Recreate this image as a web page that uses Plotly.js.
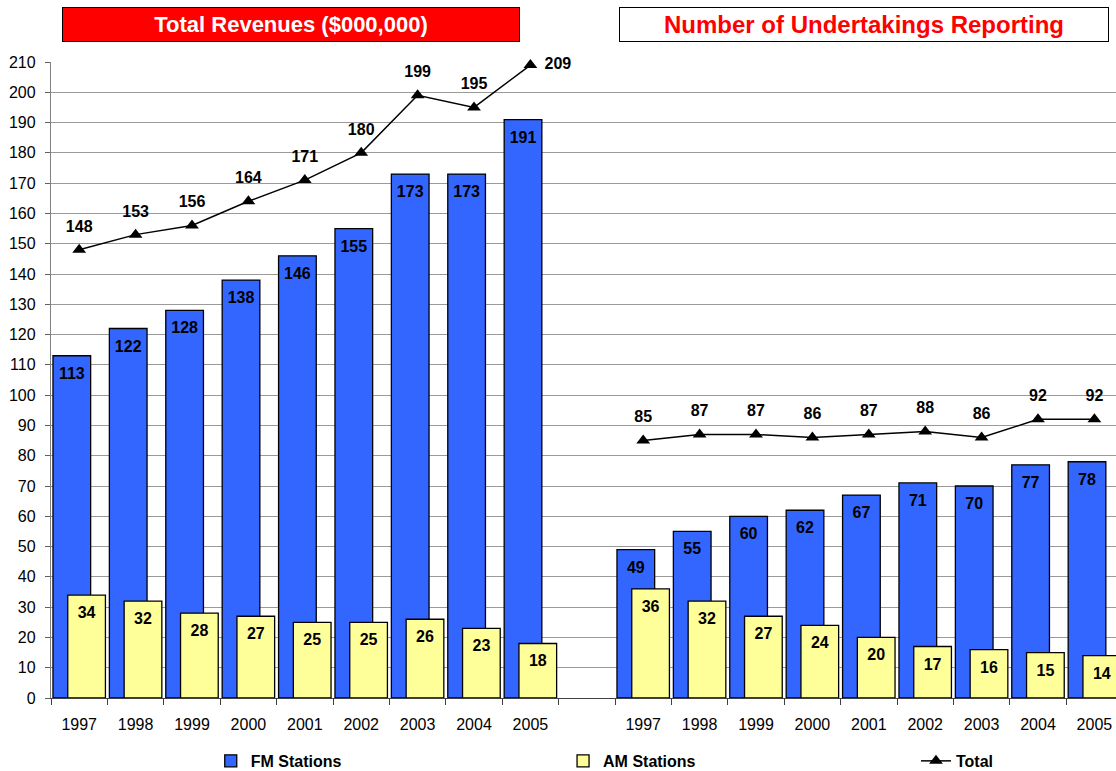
<!DOCTYPE html>
<html>
<head>
<meta charset="utf-8">
<script src="https://cdn.plot.ly/plotly-3.0.1.min.js"></script>
<style>html,body{margin:0;padding:0;background:#fff;}#chart{width:1116px;height:771px;}</style>
</head>
<body>
<div id="chart"></div>
<script>
// ---- data ----
const years = ['1997','1998','1999','2000','2001','2002','2003','2004','2005'];
const revenueFM    = [113,122,128,138,146,155,173,173,191];
const revenueAM    = [34,32,28,27,25,25,26,23,18];
const revenueTotal = [148,153,156,164,171,180,199,195,209];
const reportFM     = [49,55,60,62,67,71,70,77,78];
const reportAM     = [36,32,27,24,20,17,16,15,14];
const reportTotal  = [85,87,87,86,87,88,86,92,92];
const panelTitles  = ['Total Revenues ($000,000)', 'Number of Undertakings Reporting'];
const seriesNames  = ['FM Stations', 'AM Stations', 'Total'];

// ---- category positions: panel 1, one empty slot, panel 2 ----
const n = years.length;
const gap = 1;
const xPos = [];
for (let i = 0; i < n; i++) xPos.push(i);
for (let i = 0; i < n; i++) xPos.push(n + gap + i);
function join(a, b) { return a.concat(b); }
const fmY = join(revenueFM, reportFM);
const amY = join(revenueAM, reportAM);
const totY = join(revenueTotal, reportTotal);

const BAR_W = 0.668, SHIFT = 0.131;
const FONT = 'Liberation Sans, Arial, sans-serif';

const fmTrace = {
  type: 'bar', name: seriesNames[0], x: xPos, y: fmY, legend: 'legend',
  width: BAR_W, offset: -SHIFT - BAR_W / 2,
  marker: { color: '#3366FF', line: { color: '#000', width: 1.3 } },
  hoverinfo: 'y'
};
const amTrace = {
  type: 'bar', name: seriesNames[1], x: xPos, y: amY, legend: 'legend2',
  width: BAR_W, offset: SHIFT - BAR_W / 2,
  marker: { color: '#FFFF99', line: { color: '#000', width: 1.3 } },
  hoverinfo: 'y'
};
// total line: broken between the two panels
const totX = xPos.slice(0, n).concat([null]).concat(xPos.slice(n));
const totYg = revenueTotal.concat([null]).concat(reportTotal);
const totalTrace = {
  type: 'scatter', mode: 'lines+markers', name: seriesNames[2], legend: 'legend3',
  x: totX, y: totYg, connectgaps: false, cliponaxis: false,
  line: { color: '#000', width: 1.5 },
  marker: { symbol: 'triangle-up', size: 12, color: '#000' },
  hoverinfo: 'y'
};

function labelTrace(xs, ys, dx, pos, size) {
  return {
    type: 'scatter', mode: 'markers+text', showlegend: false, hoverinfo: 'skip',
    x: xs.map(v => v + dx), y: ys, text: ys.map(v => String(v)),
    textposition: pos, cliponaxis: false,
    textfont: { family: FONT, size: 16, color: '#000', weight: 'bold' },
    marker: { size: size, opacity: 0, color: '#000' }
  };
}
const fmLabels = labelTrace(xPos, fmY, -SHIFT, 'bottom center', 16);
const amLabels = labelTrace(xPos, amY, SHIFT, 'bottom center', 16);
const totPos = totY.map((v, i) => (i === n - 1 ? 'middle right' : 'top center'));
const totLabels = labelTrace(xPos, totY, 0, totPos, 21);

const bounds = [];
for (let k = -1; k < 2 * n + gap; k++) bounds.push(k + 0.5);

const plotLeft = 51, plotRight = 1116, slotPx = 56.4;
const xRange = [-0.5, -0.5 + (plotRight - plotLeft) / slotPx];

const legendBase = {
  orientation: 'h', xanchor: 'left', y: -0.099, yanchor: 'middle',
  font: { family: FONT, size: 16, color: '#000', weight: 'bold' },
  bgcolor: 'rgba(0,0,0,0)'
};

const layout = {
  width: 1116, height: 771,
  margin: { l: plotLeft, r: 0, t: 62, b: 73, autoexpand: false },
  paper_bgcolor: '#fff', plot_bgcolor: '#fff',
  font: { family: FONT, size: 16, color: '#000' },
  barmode: 'overlay',
  showlegend: true,
  legend: Object.assign({}, legendBase, { x: 0.15 }),
  legend2: Object.assign({}, legendBase, { x: 0.4808 }),
  legend3: Object.assign({}, legendBase, { x: 0.8122 }),
  xaxis: {
    range: xRange, tickmode: 'array', tickvals: xPos, ticktext: years.concat(years),
    ticks: '', showgrid: false, zeroline: false, fixedrange: true,
    showline: true, linecolor: '#404040', linewidth: 1.2,
    tickfont: { family: FONT, size: 16, color: '#000' }, ticklabelstandoff: 12,
    minor: { tickmode: 'array', tickvals: bounds, ticks: 'outside', ticklen: 6, tickcolor: '#404040', showgrid: false }
  },
  yaxis: {
    range: [0, 210], dtick: 10, tick0: 0, ticks: 'outside', ticklen: 5, tickcolor: '#606060',
    showgrid: true, gridcolor: '#9a9a9a', gridwidth: 1, zeroline: false,
    showline: true, linecolor: '#808080', linewidth: 1.2, fixedrange: true,
    tickfont: { family: FONT, size: 16, color: '#000' }, ticklabelstandoff: 6
  },
  annotations: [
    {
      xref: 'paper', yref: 'paper', x: 0.2254, y: 1.059, xanchor: 'center', yanchor: 'middle',
      text: '<b>' + panelTitles[0] + '</b>', showarrow: false,
      font: { family: FONT, size: 22, color: '#fff' },
      bgcolor: '#FF0000', bordercolor: '#000', borderwidth: 1, borderpad: 0,
      width: 456, height: 33
    },
    {
      xref: 'paper', yref: 'paper', x: 0.7634, y: 1.059, xanchor: 'center', yanchor: 'middle',
      text: '<b>' + panelTitles[1] + '</b>', showarrow: false,
      font: { family: FONT, size: 24, color: '#FF0000' },
      bgcolor: '#fff', bordercolor: '#000', borderwidth: 1, borderpad: 0,
      width: 488, height: 33
    }
  ]
};

Plotly.newPlot('chart', [fmTrace, amTrace, totalTrace, fmLabels, amLabels, totLabels], layout,
  { displayModeBar: false, staticPlot: true });
</script>
</body>
</html>
